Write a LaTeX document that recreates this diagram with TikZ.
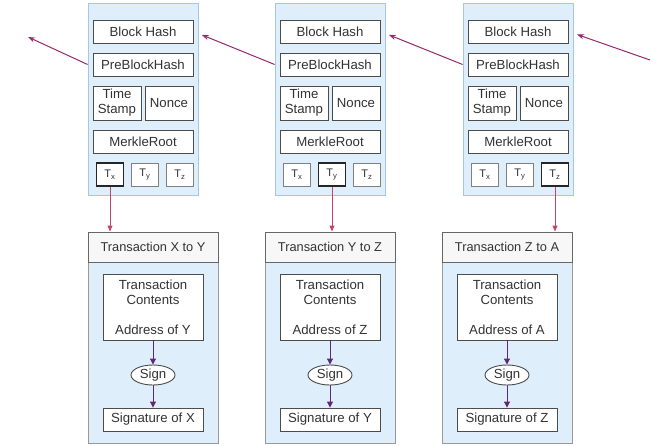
\documentclass[tikz,border=0pt]{standalone}
\usepackage{fontspec}
\setmainfont{Liberation Sans}
\usetikzlibrary{shapes.geometric,arrows.meta,positioning,calc}

\definecolor{blockblue}{RGB}{222,238,251}
\definecolor{blockedge}{RGB}{165,198,228}
\definecolor{linkpurple}{RGB}{150,40,110}
\definecolor{txred}{RGB}{195,70,105}
\definecolor{signpurple}{RGB}{95,40,115}

\tikzset{
  field/.style={draw=black!70, line width=0.9pt, fill=white, text=black!80,
    inner sep=1pt, align=center, font=\fontsize{13.2}{15}\selectfont},
  wide/.style={minimum width=100pt, minimum height=23pt},
  half/.style={minimum width=48pt, minimum height=34pt},
  tbox/.style={field, draw=black!50, minimum width=27pt, minimum height=23pt,
    font=\fontsize{11}{13}\selectfont},
  picked/.style={draw=black!85, line width=1.3pt},
  outerbox/.style={draw=blockedge, line width=0.8pt, fill=blockblue,
    minimum width=110pt, minimum height=192pt, inner sep=0pt},
  bodybox/.style={draw=black!40, line width=0.8pt, fill=blockblue,
    minimum width=130pt, minimum height=211pt, inner sep=0pt},
  titlebox/.style={field, fill=black!3, draw=black!60,
    minimum width=130pt, minimum height=30pt, font=\fontsize{12.8}{15}\selectfont},
  contentbox/.style={field, minimum width=100pt, minimum height=66pt},
  signnode/.style={field, ellipse, minimum width=44pt, minimum height=20pt, inner sep=0pt},
  linkarrow/.style={linkpurple, line width=1pt, -{Stealth[length=7pt,width=5pt]}},
  txarrow/.style={txred, line width=0.9pt, -{Triangle[length=6pt,width=5pt]}},
  signarrow/.style={signpurple, line width=1pt, -{Triangle[length=6pt,width=6pt]}}
}

\begin{document}
\begin{tikzpicture}[x=1pt,y=-1pt]
  \useasboundingbox (0,0) rectangle (654,445);

  % Blocks
  \foreach \n/\u/\pa/\pb/\pc in {1/88/picked//,2/275//picked/,3/463///picked} {
    \node[outerbox] (blk\n) at (\u+55,99) {};
    \node[field, wide] (hash\n) at (\u+55,31.5) {Block Hash};
    \node[field, wide] (pre\n) at (\u+55,64.5) {PreBlockHash};
    \node[field, half] (time\n) at (\u+29,103) {Time\\Stamp};
    \node[field, half] (nonce\n) at (\u+81,103) {Nonce};
    \node[field, wide] (merkle\n) at (\u+55,141.5) {MerkleRoot};
    \node[tbox, \pa] (ta\n) at (\u+22,174.5) {T\textsubscript{x}};
    \node[tbox, \pb] (tb\n) at (\u+57,174.5) {T\textsubscript{y}};
    \node[tbox, \pc] (tc\n) at (\u+92,174.5) {T\textsubscript{z}};
  }

  % Transactions
  \foreach \n/\l/\src/\dst in {1/88/X/Y,2/265/Y/Z,3/442/Z/A} {
    \node[bodybox] (body\n) at (\l+65,337.5) {};
    \node[titlebox] (title\n) at (\l+65,247) {Transaction \src\ to \dst};
    \node[contentbox] (content\n) at (\l+65,307) {Transaction\\Contents\\[15pt]Address of \dst};
    \node[signnode] (sign\n) at (\l+65,375) {Sign};
    \node[field, wide] (sig\n) at (\l+65,419.5) {Signature of \src};
    \draw[signarrow] (content\n) -- (sign\n);
    \draw[signarrow] (sign\n) -- (sig\n);
  }

  % Chain links
  \coordinate (leftend) at (28,37);
  \coordinate (rightend) at (650,60);
  \draw[linkarrow] (blk1.west |- pre1.west) -- (leftend);
  \draw[linkarrow, shorten >=9pt] (blk2.west |- pre2.west) -- (hash1.east);
  \draw[linkarrow, shorten >=9pt] (blk3.west |- pre3.west) -- (hash2.east);
  \draw[linkarrow, shorten >=9pt] (rightend) -- (hash3.east);

  % Transaction links
  \draw[txarrow] (ta1.south) -- (ta1.south |- title1.north);
  \draw[txarrow] (tb2.south) -- (tb2.south |- title2.north);
  \draw[txarrow] (tc3.south) -- (tc3.south |- title3.north);
\end{tikzpicture}
\end{document}
